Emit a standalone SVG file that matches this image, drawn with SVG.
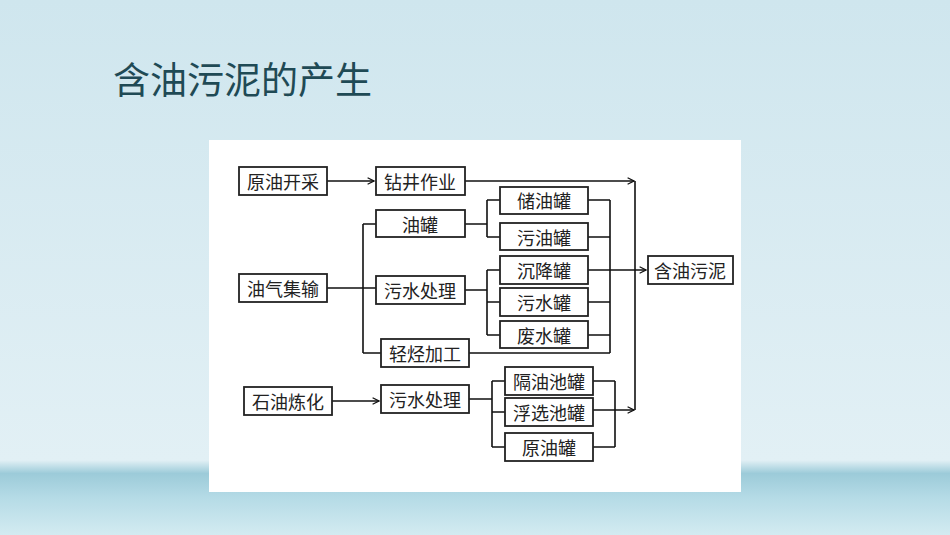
<svg xmlns="http://www.w3.org/2000/svg" width="950" height="535" viewBox="0 0 950 535">
<defs>
<linearGradient id="bg" x1="0" y1="0" x2="0" y2="1">
<stop offset="0" stop-color="#cfe6ee"/><stop offset="0.86" stop-color="#e2f0f5"/><stop offset="0.885" stop-color="#9ccbd9"/><stop offset="0.93" stop-color="#b5dbe6"/><stop offset="1" stop-color="#d3ebf1"/>
</linearGradient>
<marker id="ar" viewBox="0 0 10 10" refX="9" refY="5" markerWidth="8" markerHeight="8" orient="auto" markerUnits="userSpaceOnUse"><path d="M1,1 L9,5 L1,9" fill="none" stroke="#111" stroke-width="1.6"/></marker>
<style>
.b rect{fill:#fff;stroke:#222;stroke-width:1.8}
.b text{font-family:"Noto Sans CJK SC",sans-serif;font-size:18px;fill:#222;text-anchor:middle;dominant-baseline:central}
.c path{fill:none;stroke:#111;stroke-width:1.6}
</style>
</defs>
<rect width="950" height="535" fill="url(#bg)"/>
<text x="113" y="94" font-family="Noto Sans CJK SC,sans-serif" font-size="37" fill="#1f4a55">含油污泥的产生</text>
<rect x="209" y="140" width="532" height="352" fill="#fff"/>
<g class="c">
<path d="M327,181 H374" marker-end="url(#ar)"/>
<path d="M465,181 H634" marker-end="url(#ar)"/>
<path d="M332,401 H379" marker-end="url(#ar)"/>
<path d="M327,288 H376 M363,224 V353 M363,224 H376 M363,353 H381"/>
<path d="M465,224 H487 M487,200 V237 M487,200 H500 M487,237 H500"/>
<path d="M465,290 H487 M487,270 V335 M487,270 H500 M487,302 H500 M487,335 H500"/>
<path d="M588,200 H610 M588,237 H610 M588,302 H610 M588,335 H610 M469,353 H610 M610,200 V353"/>
<path d="M588,270 H646" marker-end="url(#ar)"/>
<path d="M635,181 V410"/>
<path d="M469,399 H492 M492,381 V447 M492,381 H505 M492,412 H505 M492,447 H505"/>
<path d="M593,381 H615 M593,447 H615 M615,381 V447"/>
<path d="M593,410 H634" marker-end="url(#ar)"/>
</g>
<g class="b">
<g id="n1"><rect x="239" y="167" width="88" height="28"/><text x="283" y="181">原油开采</text></g>
<g id="n2"><rect x="376" y="167" width="89" height="28"/><text x="420" y="181">钻井作业</text></g>
<g id="n3"><rect x="376" y="210" width="89" height="27"/><text x="420" y="224">油罐</text></g>
<g id="n4"><rect x="376" y="276" width="89" height="28"/><text x="420" y="290">污水处理</text></g>
<g id="n5"><rect x="381" y="339" width="88" height="28"/><text x="425" y="353">轻烃加工</text></g>
<g id="n6"><rect x="239" y="274" width="88" height="28"/><text x="283" y="288">油气集输</text></g>
<g id="n7"><rect x="500" y="187" width="88" height="27"/><text x="544" y="200">储油罐</text></g>
<g id="n8"><rect x="500" y="223" width="88" height="27"/><text x="544" y="237">污油罐</text></g>
<g id="n9"><rect x="500" y="256" width="88" height="28"/><text x="544" y="270">沉降罐</text></g>
<g id="n10"><rect x="500" y="288" width="88" height="28"/><text x="544" y="302">污水罐</text></g>
<g id="n11"><rect x="500" y="321" width="88" height="27"/><text x="544" y="335">废水罐</text></g>
<g id="n12"><rect x="648" y="256" width="85" height="28"/><text x="690" y="270">含油污泥</text></g>
<g id="n13"><rect x="244" y="387" width="88" height="28"/><text x="288" y="401">石油炼化</text></g>
<g id="n14"><rect x="381" y="385" width="88" height="28"/><text x="425" y="399">污水处理</text></g>
<g id="n15"><rect x="505" y="367" width="88" height="28"/><text x="549" y="381">隔油池罐</text></g>
<g id="n16"><rect x="505" y="398" width="88" height="28"/><text x="549" y="412">浮选池罐</text></g>
<g id="n17"><rect x="505" y="433" width="88" height="28"/><text x="549" y="447">原油罐</text></g>
</g>
</svg>
